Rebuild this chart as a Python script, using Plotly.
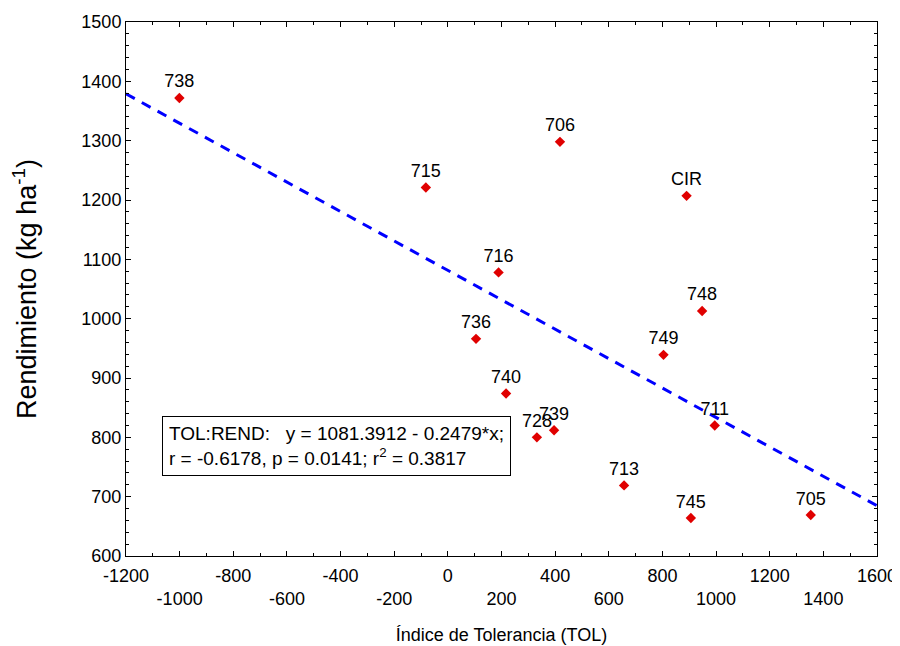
import plotly.graph_objects as go

# Data
labels = ["738", "706", "715", "CIR", "716", "748", "736", "749", "740",
          "728", "739", "711", "713", "745", "705"]
tol = [-1001, 418, -82, 890, 189, 948, 105, 804, 217, 332, 396, 995, 657, 906, 1353]
rend = [1372, 1298, 1221, 1207, 1078, 1013, 966, 939, 874, 800, 812, 820, 719, 664, 669]

intercept = 1081.3912
slope = -0.2479
line_x = [-1200, 1600]
line_y = [intercept + slope * v for v in line_x]

x_tickvals = list(range(-1200, 1601, 200))
x_ticktext = [str(v) if i % 2 == 0 else "<br>" + str(v) for i, v in enumerate(x_tickvals)]
y_tickvals = list(range(600, 1501, 100))

FONT = "Arial, Liberation Sans, sans-serif"

fig = go.Figure()
fig.add_trace(go.Scatter(
    x=line_x, y=line_y, mode="lines",
    line=dict(color="#0000FF", width=3, dash="10px,8px"),
    hoverinfo="skip", showlegend=False))
fig.add_trace(go.Scatter(
    x=tol, y=rend, mode="markers+text", text=labels,
    textposition="top center",
    textfont=dict(family=FONT, size=18, color="#000000"),
    marker=dict(symbol="diamond", size=8, color="#E00000"),
    showlegend=False))

fig.add_annotation(
    x=-1066, y=836, xref="x", yref="y", xanchor="left", yanchor="top",
    text="TOL:REND:   y = 1081.3912 - 0.2479*x;<br>r = -0.6178, p = 0.0141; r<sup>2</sup> = 0.3817",
    showarrow=False, align="left",
    font=dict(family=FONT, size=19, color="#000000"),
    bordercolor="#000000", borderwidth=1, borderpad=6, bgcolor="#FFFFFF")

axis_common = dict(
    showline=True, linecolor="#000000", linewidth=1, mirror="ticks",
    ticks="inside", ticklen=5, tickwidth=1, tickcolor="#000000",
    showgrid=False, zeroline=False,
    tickfont=dict(family=FONT, size=18, color="#000000"),
)

fig.update_xaxes(
    range=[-1200, 1600], tickvals=x_tickvals, ticktext=x_ticktext,
    ticklabelstandoff=3,
    minor=dict(ticks="inside", dtick=100, ticklen=3, tickcolor="#000000", showgrid=False),
    title=dict(text="Índice de Tolerancia (TOL)", font=dict(family=FONT, size=18, color="#000000"), standoff=20),
    automargin=False,
    **axis_common)
fig.update_yaxes(
    range=[600, 1500], tickvals=y_tickvals,
    minor=dict(ticks="inside", dtick=20, ticklen=3, tickcolor="#000000", showgrid=False),
    title=dict(text="Rendimiento (kg ha<sup>-1</sup>)", font=dict(family=FONT, size=27, color="#000000"), standoff=37),
    automargin=False,
    **axis_common)

fig.update_layout(
    width=892, height=638,
    margin=dict(l=118, r=23, t=14, b=90),
    plot_bgcolor="#FFFFFF", paper_bgcolor="#FFFFFF",
    font=dict(family=FONT),
)

fig.write_html("out.html")
